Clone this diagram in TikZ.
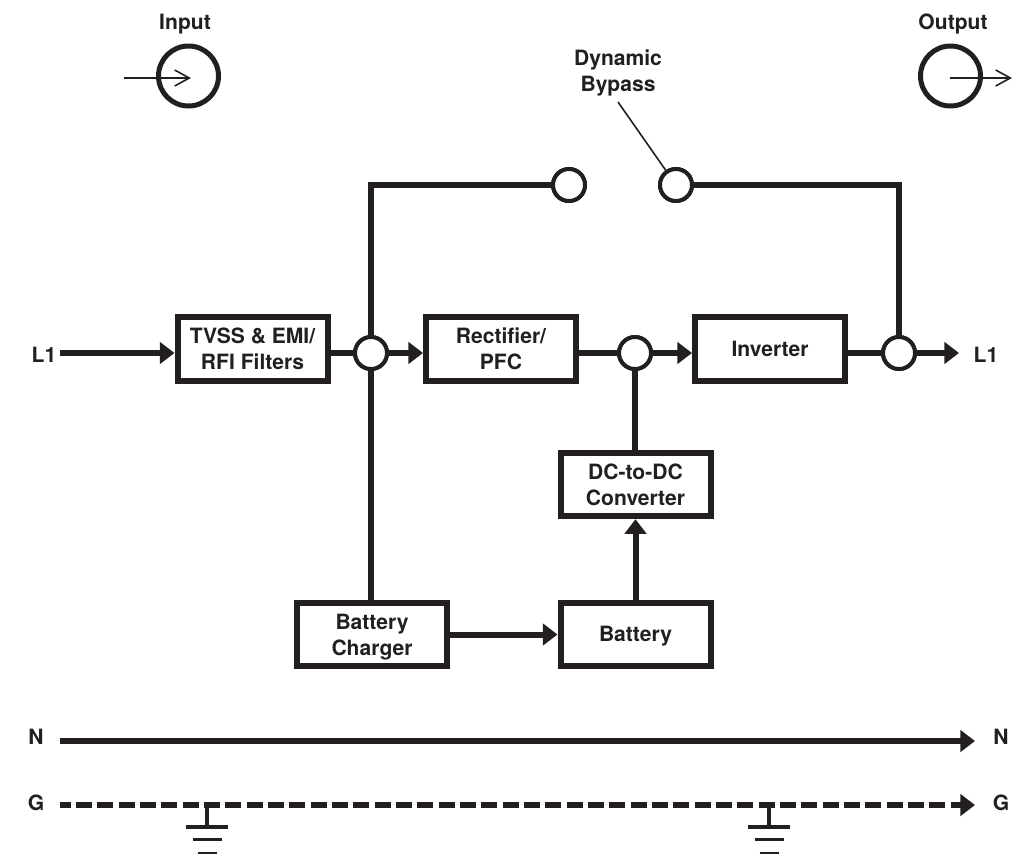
\documentclass[tikz,border=0pt]{standalone}
\usepackage{fontspec}
\setmainfont{TeX Gyre Heros}
\usetikzlibrary{arrows.meta,calc}
\definecolor{ink}{HTML}{231F20}
\tikzset{
  blockbox/.style={draw=ink,line width=4.5pt,fill=white,minimum width=112.5pt,minimum height=47.5pt,inner sep=0pt,align=center,text=ink,font=\fontsize{15.8}{19.5}\selectfont\bfseries},
  label/.style={text=ink,inner sep=0pt,align=center,font=\fontsize{15.8}{19.5}\selectfont\bfseries},
  junction/.style={circle,draw=ink,line width=3pt,fill=white,minimum size=24pt,inner sep=0pt},
  bigcirc/.style={circle,draw=ink,line width=3.75pt,minimum size=45pt,inner sep=0pt},
  wire/.style={draw=ink,line width=4.5pt},
  arrowwire/.style={wire,-{Triangle[length=11pt,width=16pt]}},
  thin wire/.style={draw=ink,line width=1.2pt},
  open arrow/.style={thin wire,-{Straight Barb[length=11pt,width=12pt,line width=1.2pt]}},
  earthbar/.style={draw=ink,line width=2.4pt}
}
\begin{document}
\begin{tikzpicture}[x=0.75pt,y=-0.75pt]
\useasboundingbox (0,0) rectangle (1012,854);
% labels
\node[label] (inlab) at (185,24) {Input};
\node[label] (outlab) at (953,24) {Output};
\node[label] (bypasslab) at (618,73) {Dynamic\\Bypass};
\node[label] (l1a) at (44,355) {L1};
\node[label] (l1b) at (986,355) {L1};
\node[label] (na) at (36,737) {N};
\node[label] (nb) at (1001,737) {N};
\node[label] (ga) at (36,803) {G};
\node[label] (gb) at (1001,803) {G};
% blocks
\node[blockbox] (tvss) at (252.5,349) {TVSS \& EMI/\\RFI Filters};
\node[blockbox] (rect) at (501,349) {Rectifier/\\PFC};
\node[blockbox] (inv) at (770,349) {Inverter};
\node[blockbox] (dc) at (635.5,484.5) {DC-to-DC\\Converter};
\node[blockbox] (batt) at (635.5,634.5) {\raisebox{-1pt}[11pt][3pt]{Battery}};
\node[blockbox] (chg) at (372,634.5) {\raisebox{-2.2pt}[11pt][3pt]{Battery}\\\raisebox{-2.2pt}[11pt][3pt]{Charger}};
% junctions
\node[junction] (j1) at (371,353) {};
\node[junction] (j2) at (635,353) {};
\node[junction] (j3) at (899,353) {};
\node[junction] (s1) at (569,185) {};
\node[junction] (s2) at (676,185) {};
% input / output circles
\node[bigcirc] (incirc) at (188.5,76) {};
\node[bigcirc] (outcirc) at (950.5,76) {};
\coordinate (instart) at (124,78);
\coordinate (intip) at (191,78);
\coordinate (outstart) at (950,78);
\coordinate (outtip) at (1012,78);
\draw[open arrow] (instart) -- (intip);
\draw[open arrow] (outstart) -- (outtip);
% bypass leader
\coordinate (leadtop) at (618,102);
\draw[thin wire] (leadtop) -- (s2);
% wires
\coordinate (l1start) at (60,353);
\coordinate (l1end) at (959,353);
\path[arrowwire] (l1start) -- (tvss.west |- l1start);
\path[wire] (tvss.east |- j1) -- (j1);
\path[arrowwire] (j1) -- (rect.west |- j1);
\path[wire] (rect.east |- j2) -- (j2);
\path[arrowwire] (j2) -- (inv.west |- j2);
\path[wire] (inv.east |- j3) -- (j3);
\path[arrowwire] (j3) -- (l1end);
\path[wire] (j1.north) |- (s1.west);
\path[wire] (s2.east) -| (j3.north);
\path[wire] (j1.south) -- (j1.south |- chg.north);
\path[wire] (j2.south) -- (dc.north -| j2.south);
\path[arrowwire] (batt.north) -- (dc.south);
\path[arrowwire] (chg.east) -- (batt.west);
% redraw junctions over wires
\node[junction] at (j1) {};
\node[junction] at (j2) {};
\node[junction] at (j3) {};
\node[junction] at (s1) {};
\node[junction] at (s2) {};
% neutral and ground
\coordinate (nstart) at (60,741);
\coordinate (nend) at (975,741);
\coordinate (gstart) at (60,805);
\coordinate (gend) at (975,805);
\path[arrowwire] (nstart) -- (nend);
\draw[draw=ink,line width=4.5pt,dash pattern=on 12pt off 4pt,dash phase=4pt] (gstart) -- ($(gend)+(-12,0)$);
\path[draw=ink,line width=4.5pt,-{Triangle[length=11pt,width=16pt]}] ($(gend)+(-14,0)$) -- (gend);
\foreach \x in {207,769}{
  \coordinate (e\x) at (\x,805);
  \coordinate (f\x) at (\x,827);
  \draw[draw=ink,line width=3.6pt] (e\x) -- (f\x);
  \draw[earthbar] ($(f\x)+(-21,0)$) -- ($(f\x)+(21,0)$);
  \draw[earthbar] ($(f\x)+(-14.5,12.5)$) -- ($(f\x)+(14.5,12.5)$);
  \draw[draw=ink,line width=1.3pt] ($(f\x)+(-9.5,26)$) -- ($(f\x)+(9.5,26)$);
}
\end{tikzpicture}
\end{document}
